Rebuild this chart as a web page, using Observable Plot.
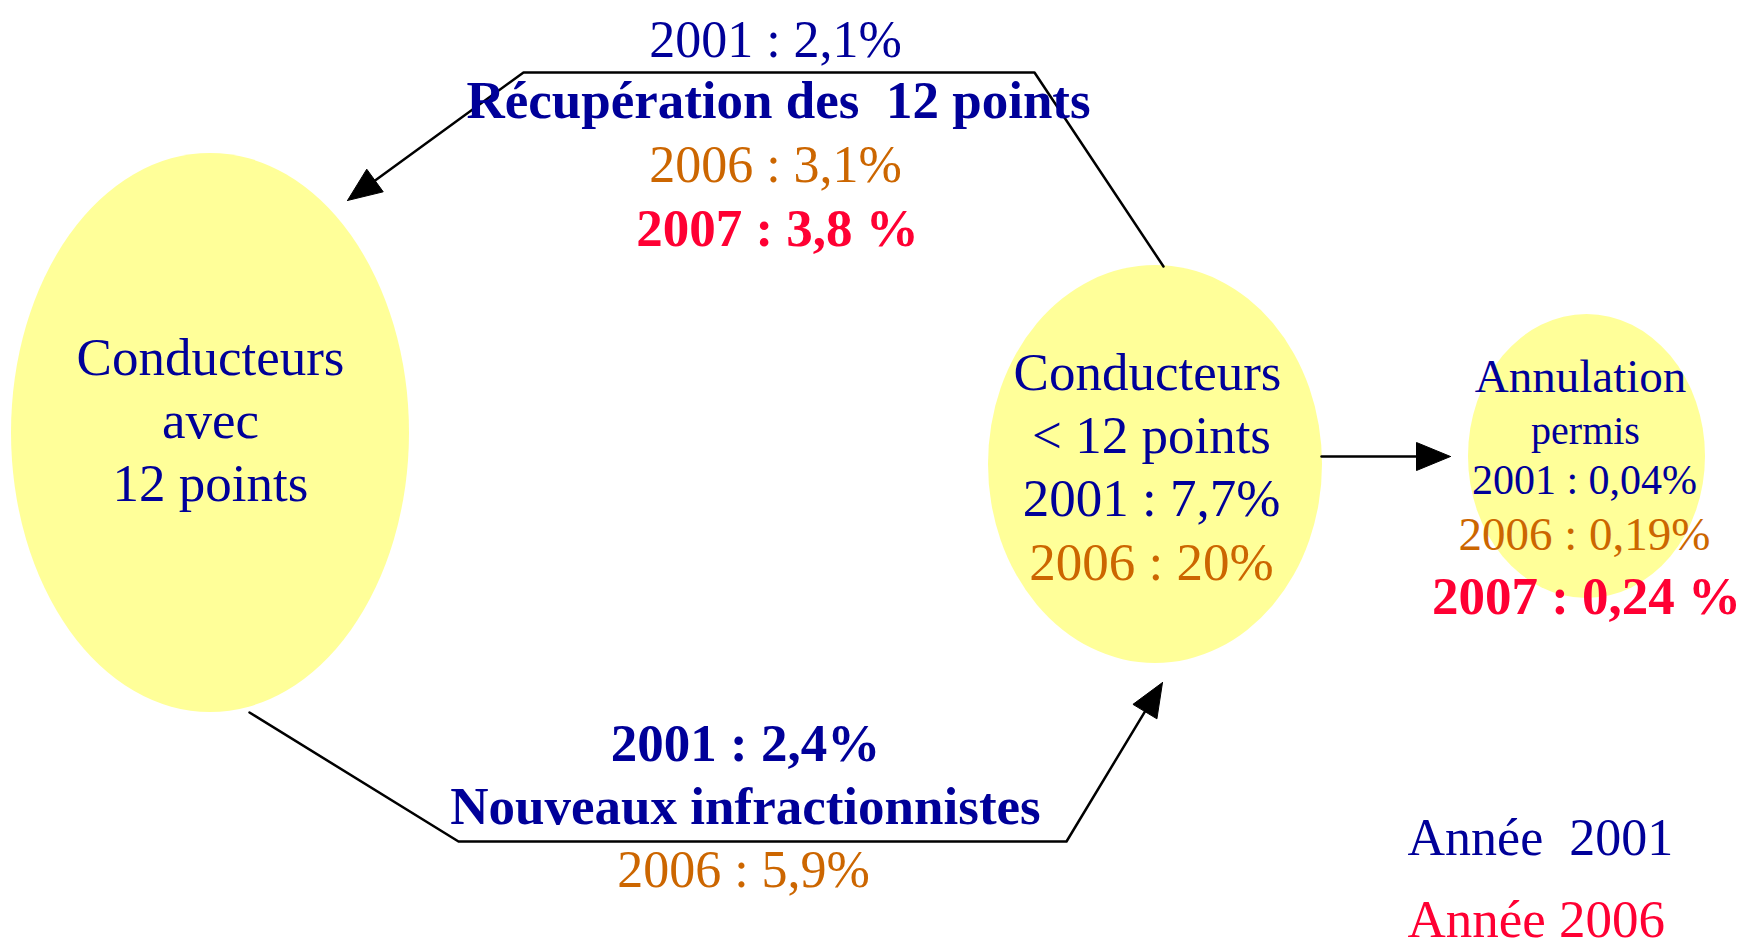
<!DOCTYPE html>
<html><head><meta charset="utf-8">
<script src="https://cdn.jsdelivr.net/npm/d3@7"></script>
<script src="https://cdn.jsdelivr.net/npm/@observablehq/plot@0.6"></script>
<style>html,body{margin:0;padding:0;background:#fff;overflow:hidden;} #chart svg{display:block;}</style>
</head><body><div id="chart"></div>
<script>
// ---- data ----
const years = ["2001", "2006", "2007"];
const nodeLines = [["Conducteurs", "avec", "12 points"], ["Conducteurs", "< 12 points"], ["Annulation", "permis"]];
const flowNames = ["Récupération des\u00a0 12 points", "Nouveaux infractionnistes"];
const recuperation = ["2,1%", "3,1%", "3,8 %"];
const nouveaux = ["2,4%", "5,9%"];
const moins12 = ["7,7%", "20%"];
const annulation = ["0,04%", "0,19%", "0,24 %"];
const legendLabels = ["Année\u00a0 2001", "Année 2006"];

// ---- layout & style ----
const W = 1744, H = 943;
const BLUE = "#000099", ORANGE = "#cc6600", RED = "#ff0033", YELLOW = "#ffff99";
const FONT = "Liberation Serif, Times New Roman, serif";
const ellipses = [
  {x1: 11, x2: 409, y1: 153, y2: 712},
  {x1: 988, x2: 1322, y1: 265, y2: 663},
  {x1: 1468, x2: 1705, y1: 314, y2: 598}
];
const arrowPaths = [
  [[1163, 266], [1034, 72], [523, 72], [347, 200]],
  [[249, 712], [458, 841], [1066, 841], [1162, 682]],
  [[1321, 456], [1450, 456]]
];
const headLen = 34, headHalf = 14;
const shafts = [], heads = [];
arrowPaths.forEach((p, k) => {
  const [tx, ty] = p[p.length - 1], [px, py] = p[p.length - 2];
  const L = Math.hypot(tx - px, ty - py), ux = (tx - px) / L, uy = (ty - py) / L;
  const bx = tx - ux * headLen, by = ty - uy * headLen;
  p.slice(0, -1).forEach(([x, y]) => shafts.push({x, y, z: k}));
  shafts.push({x: bx + ux * 2, y: by + uy * 2, z: k});
  heads.push({x: tx, y: ty, z: k},
    {x: bx - uy * headHalf, y: by + ux * headHalf, z: k},
    {x: bx + uy * headHalf, y: by - ux * headHalf, z: k},
    {x: tx, y: ty, z: k});
});

const T = (text, x, y, fill, size, bold = false, anchor = "middle") => ({text, x, y, fill, size, bold, anchor});
const texts = [
  T(`${years[0]} : ${recuperation[0]}`, 775, 56, BLUE, 52),
  T(flowNames[0], 778, 117, BLUE, 53, true),
  T(`${years[1]} : ${recuperation[1]}`, 775, 181, ORANGE, 52),
  T(`${years[2]} : ${recuperation[2]}`, 777, 245, RED, 53, true),
  T(nodeLines[0][0], 210, 374, BLUE, 53),
  T(nodeLines[0][1], 210, 437, BLUE, 53),
  T(nodeLines[0][2], 210, 500, BLUE, 53),
  T(nodeLines[1][0], 1147, 389, BLUE, 53),
  T(nodeLines[1][1], 1151, 452, BLUE, 53),
  T(`${years[0]} : ${moins12[0]}`, 1151, 515, BLUE, 53),
  T(`${years[1]} : ${moins12[1]}`, 1151, 579, ORANGE, 53),
  T(nodeLines[2][0], 1580, 391, BLUE, 47),
  T(nodeLines[2][1], 1585, 443, BLUE, 40),
  T(`${years[0]} : ${annulation[0]}`, 1584, 493, BLUE, 42),
  T(`${years[1]} : ${annulation[1]}`, 1584, 549, ORANGE, 47),
  T(`${years[2]} : ${annulation[2]}`, 1586, 613, RED, 53, true),
  T(`${years[0]} : ${nouveaux[0]}`, 745, 760, BLUE, 53, true),
  T(flowNames[1], 745, 823, BLUE, 53, true),
  T(`${years[1]} : ${nouveaux[1]}`, 743, 886, ORANGE, 52),
  T(legendLabels[0], 1407, 854, BLUE, 52, false, "start"),
  T(legendLabels[1], 1407, 936, RED, 53, false, "start")
];

const textMark = (weight, anchor) => Plot.text(texts.filter(d => d.bold === weight && d.anchor === anchor), {
  x: "x", y: "y", text: "text", fill: "fill", fontSize: "size",
  fontWeight: weight ? "bold" : "normal", fontFamily: FONT,
  textAnchor: anchor, lineAnchor: "bottom"
});

const chart = Plot.plot({
  width: W, height: H, margin: 0,
  style: {background: "#fff"},
  x: {domain: [0, W], range: [0, W], axis: null},
  y: {domain: [0, H], range: [0, H], axis: null},
  color: {type: "identity"},
  marks: [
    ...ellipses.map(e => Plot.rect([e], {x1: "x1", x2: "x2", y1: "y1", y2: "y2", fill: YELLOW,
      rx: (e.x2 - e.x1) / 2, ry: (e.y2 - e.y1) / 2})),
    Plot.line(shafts, {x: "x", y: "y", z: "z", stroke: "black", strokeWidth: 2.5, curve: "linear"}),
    Plot.line(heads, {x: "x", y: "y", z: "z", stroke: "black", fill: "black", strokeWidth: 1}),
    textMark(false, "middle"),
    textMark(true, "middle"),
    textMark(false, "start")
  ]
});
document.getElementById("chart").appendChild(chart);
</script>
</body></html>
